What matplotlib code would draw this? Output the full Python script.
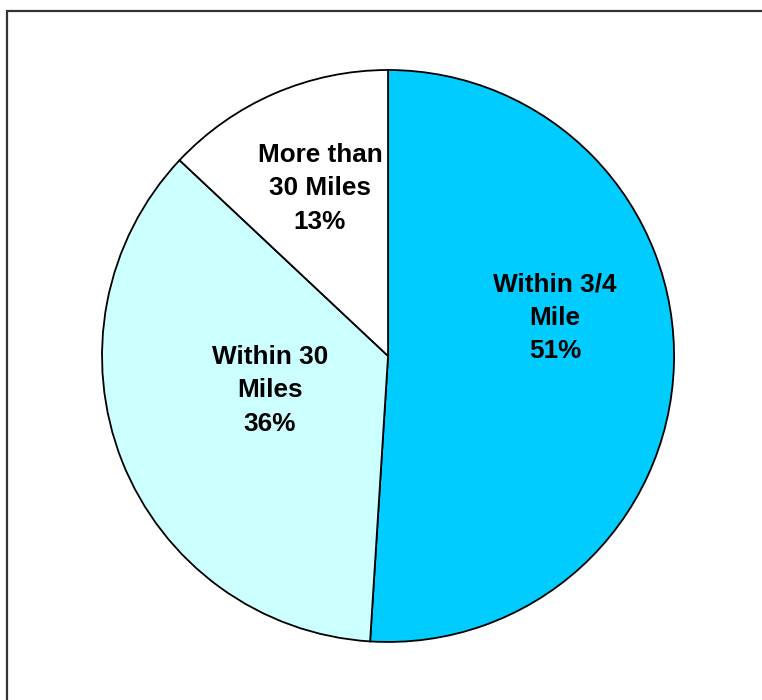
import matplotlib.pyplot as plt
from matplotlib.patches import Rectangle

labels = ["Within 3/4\nMile", "Within 30\nMiles", "More than\n30 Miles"]
shares = [51, 36, 13]
colors = ["#00CCFF", "#CCFFFF", "#FFFFFF"]

plt.rcParams['font.family'] = ['Liberation Sans', 'DejaVu Sans']

fig = plt.figure(figsize=(7.62, 7.0), dpi=100)

# chart area border (open on the right and bottom, as it runs off the page)
fig.patches.append(Rectangle((7 / 762, -0.1), 1.2, 1 - 11 / 700 + 0.1,
                             transform=fig.transFigure, fill=False,
                             edgecolor="#333333", linewidth=1.6))

ax = fig.add_axes([0.1339, 0.0829, 0.7507, 0.8171])
wedges, texts = ax.pie(shares, colors=colors, startangle=90, counterclock=False,
                       wedgeprops=dict(edgecolor="black", linewidth=1.3))

label_pos = [(0.584, 0.133), (-0.413, -0.119), (-0.238, 0.587)]
for lab, val, (x, y) in zip(labels, shares, label_pos):
    ax.text(x, y, f"{lab}\n{val}%", ha="center", va="center",
            fontsize=18.8, fontweight="bold", linespacing=1.5)

ax.set_xlim(-1, 1)
ax.set_ylim(-1, 1)
ax.set_aspect("auto")
ax.axis("off")

fig.savefig("out.png", dpi=100)
